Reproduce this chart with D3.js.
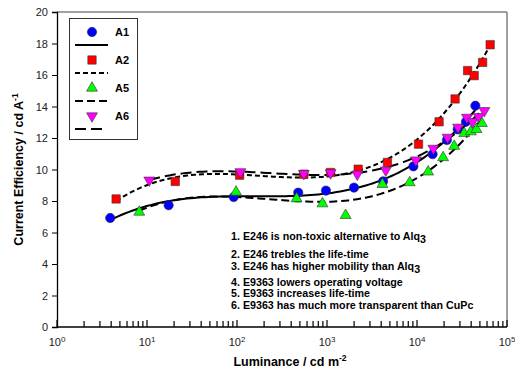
<!DOCTYPE html>
<html>
<head>
<meta charset="utf-8">
<script src="https://cdn.jsdelivr.net/npm/d3@7"></script>
<style>
  body { margin: 0; background: #fff; }
  svg { font-family: Arial, "Liberation Sans", sans-serif; }
</style>
</head>
<body>
<script>
// data
const a1Lum = [3.9, 17.4, 92, 479, 973, 1995, 4200, 9120, 14900, 21500, 28300, 35000, 44500];
const a1Eff = [6.92, 7.73, 8.25, 8.53, 8.66, 8.85, 9.25, 10.2, 10.97, 11.87, 12.55, 13.03, 14.05];

const a2Lum = [4.54, 20.6, 107, 553, 1096, 2220, 4690, 10400, 17600, 26500, 36500, 43200, 53600, 65000];
const a2Eff = [8.13, 9.24, 9.64, 9.70, 9.81, 10.02, 10.45, 11.61, 13.03, 14.48, 16.28, 15.96, 16.8, 17.92];

const a5Lum = [8.2, 97.7, 460, 890, 1610, 4130, 8300, 13300, 19500, 25900, 33500, 39700, 45800, 52600];
const a5Eff = [7.30, 8.57, 8.15, 7.83, 7.09, 9.06, 9.17, 9.85, 10.76, 11.48, 12.29, 12.4, 12.55, 12.93];

const a6Lum = [10.6, 109, 553, 1096, 2170, 4500, 9730, 15200, 21900, 28600, 35900, 41400, 48400, 56000];
const a6Eff = [9.32, 9.85, 9.74, 9.78, 9.70, 9.96, 10.6, 11.34, 12.04, 12.68, 13.31, 13.03, 13.35, 13.73];

const xTicks = [1, 10, 100, 1000, 10000, 100000];
const yTicks = [0, 2, 4, 6, 8, 10, 12, 14, 16, 18, 20];

const notes = [
  ["1. E246 is non-toxic alternative to Alq", "3"],
  ["2. E246 trebles the life-time", ""],
  ["3. E246 has higher mobility than Alq", "3"],
  ["4. E9363 lowers operating voltage", ""],
  ["5. E9363 increases life-time", ""],
  ["6. E9363 has much more transparent than CuPc", ""]
];

const width = 515, height = 374;
const margin = {top: 12, right: 8, bottom: 47, left: 57};

const svg = d3.select("body").append("svg")
    .attr("width", width)
    .attr("height", height);

const x = d3.scaleLog().domain([1, 100000]).range([margin.left, width - margin.right]);
const y = d3.scaleLinear().domain([0, 20]).range([height - margin.bottom, margin.top]);

// cubic least squares in log10(L), used for the regression curves
function polyFit(xs, ys, deg) {
  const n = deg + 1;
  const A = [];
  for (let i = 0; i < n; i++) {
    A.push(new Array(n + 1).fill(0));
  }
  xs.forEach((xv, k) => {
    for (let i = 0; i < n; i++) {
      for (let j = 0; j < n; j++) A[i][j] += Math.pow(xv, i + j);
      A[i][n] += ys[k] * Math.pow(xv, i);
    }
  });
  for (let c = 0; c < n; c++) {
    let p = c;
    for (let r = c + 1; r < n; r++) if (Math.abs(A[r][c]) > Math.abs(A[p][c])) p = r;
    [A[c], A[p]] = [A[p], A[c]];
    for (let r = 0; r < n; r++) {
      if (r === c) continue;
      const f = A[r][c] / A[c][c];
      for (let k = c; k <= n; k++) A[r][k] -= f * A[c][k];
    }
  }
  return A.map((row, i) => row[n] / A[i][i]);
}

const series = [
  {name: "A1", lum: a1Lum, eff: a1Eff, fill: "#0000ff", sym: d3.symbolCircle, dash: null},
  {name: "A2", lum: a2Lum, eff: a2Eff, fill: "#ff0000", sym: d3.symbolSquare, dash: "5,3"},
  {name: "A5", lum: a5Lum, eff: a5Eff, fill: "#00ff00", sym: d3.symbolTriangle, dash: "8,4"},
  {name: "A6", lum: a6Lum, eff: a6Eff, fill: "#ff00ff", sym: d3.symbolTriangle, dash: "11,5", flip: true}
];

// frame
svg.append("line")
    .attr("x1", margin.left).attr("x2", width - margin.right)
    .attr("y1", margin.top).attr("y2", margin.top)
    .attr("stroke", "#808080").attr("stroke-width", 1.5);
svg.append("line")
    .attr("x1", width - margin.right).attr("x2", width - margin.right)
    .attr("y1", margin.top).attr("y2", height - margin.bottom)
    .attr("stroke", "#808080").attr("stroke-width", 1.5);

// y axis
const yAxis = svg.append("g")
    .attr("transform", `translate(${margin.left},0)`)
    .call(d3.axisLeft(y).tickValues(yTicks).tickSize(5).tickPadding(4));
yAxis.select(".domain").attr("stroke-width", 1.3);
yAxis.selectAll("text").attr("font-size", 11).attr("fill", "#222");

// x axis with ticks pointing inward
const minor = [];
for (let d = 1; d < 100000; d *= 10) {
  for (let m = 2; m <= 9; m++) minor.push(d * m);
}
const xg = svg.append("g").attr("transform", `translate(0,${height - margin.bottom})`);
xg.append("line")
    .attr("x1", margin.left).attr("x2", width - margin.right)
    .attr("stroke", "#000").attr("stroke-width", 1.3);
xg.selectAll(".minor").data(minor).join("line")
    .attr("class", "minor")
    .attr("x1", d => x(d)).attr("x2", d => x(d))
    .attr("y1", 0).attr("y2", -6)
    .attr("stroke", "#000").attr("stroke-width", 1.2);
xg.selectAll(".major").data(xTicks).join("line")
    .attr("class", "major")
    .attr("x1", d => x(d)).attr("x2", d => x(d))
    .attr("y1", 0).attr("y2", -7)
    .attr("stroke", "#000").attr("stroke-width", 1.2);
const xl = xg.selectAll(".lab").data(xTicks).join("text")
    .attr("class", "lab")
    .attr("x", d => x(d))
    .attr("y", 19)
    .attr("text-anchor", "middle")
    .attr("font-size", 11)
    .attr("fill", "#222");
xl.append("tspan").text("10");
xl.append("tspan").attr("dy", -4).attr("font-size", 8).text(d => Math.round(Math.log10(d)));

// axis titles
const xt = svg.append("text")
    .attr("x", 290).attr("y", 366)
    .attr("text-anchor", "middle")
    .attr("font-size", 12.5).attr("font-weight", "bold");
xt.append("tspan").text("Luminance / cd m");
xt.append("tspan").attr("dy", -5).attr("font-size", 8.5).text("-2");

const yt = svg.append("text")
    .attr("transform", `translate(23,${(margin.top + height - margin.bottom) / 2}) rotate(-90)`)
    .attr("text-anchor", "middle")
    .attr("font-size", 12.5).attr("font-weight", "bold");
yt.append("tspan").text("Current Efficiency / cd A");
yt.append("tspan").attr("dy", -5).attr("font-size", 8.5).text("-1");

// regression curves
const line = d3.line().x(d => x(d[0])).y(d => y(d[1]));
series.forEach(s => {
  const lx = s.lum.map(v => Math.log10(v));
  const c = polyFit(lx, s.eff, 3);
  const [lo, hi] = d3.extent(lx);
  const pts = d3.range(0, 101).map(i => {
    const t = lo + (hi - lo) * i / 100;
    return [Math.pow(10, t), c[0] + c[1] * t + c[2] * t * t + c[3] * t * t * t];
  });
  svg.append("path")
      .datum(pts)
      .attr("d", line)
      .attr("fill", "none")
      .attr("stroke", "#000")
      .attr("stroke-width", 2)
      .attr("stroke-dasharray", s.dash);
});

// markers
function symPath(s) {
  return d3.symbol().type(s.sym).size(s.sym === d3.symbolSquare ? 70 : (s.sym === d3.symbolCircle ? 68 : 52))();
}
series.forEach(s => {
  svg.append("g").selectAll("path")
    .data(s.lum.map((v, i) => [v, s.eff[i]]))
    .join("path")
      .attr("d", symPath(s))
      .attr("transform", d => `translate(${x(d[0])},${y(d[1])})` + (s.flip ? " rotate(180)" : ""))
      .attr("fill", s.fill)
      .attr("stroke", "#333")
      .attr("stroke-width", 0.6);
});

// legend
const lg = svg.append("g");
lg.append("rect")
    .attr("x", 69.5).attr("y", 18.5)
    .attr("width", 68).attr("height", 121)
    .attr("fill", "#fff").attr("stroke", "#333").attr("stroke-width", 1);
const legLen = [33, 33, 33, 28];
series.forEach((s, i) => {
  const yy = 32 + i * 28;
  lg.append("path")
      .attr("d", symPath(s))
      .attr("transform", `translate(92,${yy})` + (s.flip ? " rotate(180)" : ""))
      .attr("fill", s.fill).attr("stroke", "#333").attr("stroke-width", 0.6);
  lg.append("text")
      .attr("x", 115).attr("y", yy + 4)
      .attr("font-size", 11).attr("font-weight", "bold")
      .text(s.name);
  lg.append("line")
      .attr("x1", 75).attr("x2", 75 + legLen[i])
      .attr("y1", yy + 13).attr("y2", yy + 13)
      .attr("stroke", "#000").attr("stroke-width", 2)
      .attr("stroke-dasharray", s.dash);
});

// notes
const noteY = [240, 258, 270, 286, 297, 309];
notes.forEach((n, i) => {
  const t = svg.append("text")
      .attr("x", 231).attr("y", noteY[i])
      .attr("font-size", 10.7).attr("font-weight", "bold");
  t.append("tspan").text(n[0]);
  if (n[1]) t.append("tspan").attr("dy", 3).attr("font-size", 10.7).text(n[1]);
});
</script>
</body>
</html>
